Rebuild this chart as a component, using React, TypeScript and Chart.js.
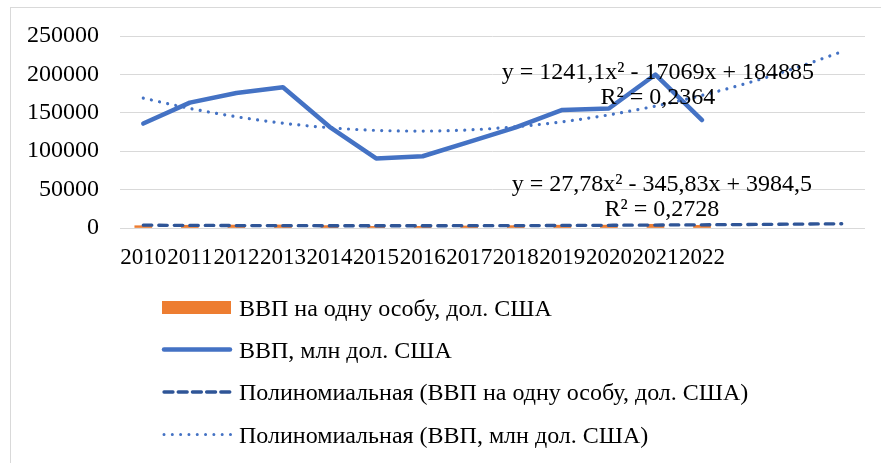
import { useEffect, useRef } from 'react';
import { Chart, registerables } from 'chart.js';

Chart.register(...registerables);

// ---- data ----
const years = ['2010', '2011', '2012', '2013', '2014', '2015', '2016', '2017', '2018', '2019', '2020', '2021', '2022'];
const forecastLabels = ['', '', ''];
const gdpPerCapita = [2974, 3570, 3856, 4030, 3105, 2125, 2188, 2638, 3097, 3659, 3751, 4836, 3430];
const gdp = [136000, 163200, 175800, 183300, 131800, 90600, 93400, 112200, 130900, 153800, 155600, 199800, 140600];
const gdpTrend = [169057, 155711, 144848, 136467, 130568, 127151, 126216, 127763, 131793, 138305, 147299, 158775, 172734, 189175, 208098, 229503];
const perCapitaTrend = [3666, 3404, 3197, 3046, 2950, 2910, 2925, 2996, 3122, 3304, 3542, 3835, 4184, 4588, 5048, 5563];
const yTickValues = [0, 50000, 100000, 150000, 200000, 250000];
const seriesNames = [
  'ВВП на одну особу, дол. США',
  'ВВП, млн дол. США',
  'Полиномиальная (ВВП на одну особу, дол. США)',
  'Полиномиальная (ВВП, млн дол. США)',
];
const gdpEquation = ['y = 1241,1x² - 17069x + 184885', 'R² = 0,2364'];
const perCapitaEquation = ['y = 27,78x² - 345,83x + 3984,5', 'R² = 0,2728'];

const FONT = "'Liberation Serif', 'Times New Roman', serif";
const ORANGE = '#ED7D31';
const BLUE = '#4472C4';
const DARK_BLUE = '#2F5597';

export default function App() {
  const ref = useRef<HTMLCanvasElement>(null);

  useEffect(() => {
    if (!ref.current) return;

    const overlay = {
      id: 'overlay',
      afterDraw(chart: any) {
        const ctx: CanvasRenderingContext2D = chart.ctx;
        const xs = chart.scales.x;
        ctx.save();
        // trendline equations
        ctx.font = `24px ${FONT}`;
        ctx.fillStyle = '#000';
        ctx.textAlign = 'center';
        ctx.textBaseline = 'middle';
        const ex = xs.getPixelForValue(11.05);
        const ca = chart.chartArea;
        ctx.fillText(gdpEquation[0], ex, ca.top + 37);
        ctx.fillText(gdpEquation[1], ex, ca.top + 62);
        ctx.fillText(perCapitaEquation[0], ex + 4, ca.top + 149);
        ctx.fillText(perCapitaEquation[1], ex + 4, ca.top + 174);

        // legend
        const lx0 = 163;
        const lx1 = 231;
        const tx = 239;
        const rows = [307.5, 349.5, 392, 434.5];
        ctx.textAlign = 'left';
        ctx.font = `24px ${FONT}`;
        rows.forEach((ry, i) => {
          ctx.save();
          if (i === 0) {
            ctx.fillStyle = ORANGE;
            ctx.fillRect(lx0 - 1, ry - 6.5, lx1 - lx0 + 1, 13);
          } else {
            ctx.beginPath();
            ctx.lineCap = 'round';
            if (i === 1) {
              ctx.strokeStyle = BLUE;
              ctx.lineWidth = 4.5;
              ctx.setLineDash([]);
              ctx.moveTo(lx0 + 1, ry);
              ctx.lineTo(lx1 - 1, ry);
            } else if (i === 2) {
              ctx.strokeStyle = DARK_BLUE;
              ctx.lineWidth = 3.3;
              ctx.setLineDash([9, 5.2]);
              ctx.moveTo(lx0 + 1, ry);
              ctx.lineTo(lx1, ry);
            } else {
              ctx.strokeStyle = BLUE;
              ctx.lineWidth = 3;
              ctx.setLineDash([0.01, 8.3]);
              ctx.moveTo(lx0 + 1, ry);
              ctx.lineTo(lx1, ry);
            }
            ctx.stroke();
          }
          ctx.restore();
          ctx.fillStyle = '#000';
          ctx.fillText(seriesNames[i], tx, ry + 2);
        });
        ctx.restore();
      },
    };

    const chart = new Chart(ref.current, {
      type: 'bar',
      data: {
        labels: [...years, ...forecastLabels],
        datasets: [
          {
            type: 'line',
            label: seriesNames[3],
            data: gdpTrend,
            borderColor: BLUE,
            borderWidth: 3.2,
            borderDash: [0.01, 8.3],
            borderCapStyle: 'round',
            pointRadius: 0,
            cubicInterpolationMode: 'monotone',
            fill: false,
            order: 1,
          },
          {
            type: 'line',
            label: seriesNames[2],
            data: perCapitaTrend,
            borderColor: DARK_BLUE,
            borderWidth: 3.3,
            borderDash: [8.5, 7],
            borderCapStyle: 'round',
            pointRadius: 0,
            cubicInterpolationMode: 'monotone',
            fill: false,
            order: 2,
          },
          {
            type: 'line',
            label: seriesNames[1],
            data: gdp,
            borderColor: BLUE,
            borderWidth: 4.5,
            borderCapStyle: 'round',
            borderJoinStyle: 'round',
            pointRadius: 0,
            tension: 0,
            fill: false,
            order: 3,
          },
          {
            type: 'bar',
            label: seriesNames[0],
            data: gdpPerCapita,
            backgroundColor: ORANGE,
            barThickness: 17,
            order: 4,
          },
        ],
      } as any,
      options: {
        responsive: false,
        animation: false,
        devicePixelRatio: 1,
        layout: { padding: { left: 10, top: 36, right: 16, bottom: 195 } },
        plugins: {
          legend: { display: false },
          tooltip: { enabled: false },
        },
        scales: {
          x: {
            offset: true,
            grid: { display: false, drawTicks: false },
            border: { display: false },
            ticks: {
              autoSkip: false,
              maxRotation: 0,
              minRotation: 0,
              padding: 16,
              color: '#000',
              font: { family: FONT, size: 23 },
            },
            afterFit: (s: any) => {
              s.height = 40;
            },
          },
          y: {
            min: yTickValues[0],
            max: yTickValues[yTickValues.length - 1],
            afterBuildTicks: (s: any) => {
              s.ticks = yTickValues.map((v) => ({ value: v }));
            },
            grid: { color: '#d9d9d9', lineWidth: 1, drawTicks: false },
            border: { display: false },
            ticks: {
              padding: 21,
              color: '#000',
              font: { family: FONT, size: 24 },
              callback: (v: any) => String(v),
            },
            afterFit: (s: any) => {
              s.width = 110;
            },
          },
        },
      },
      plugins: [overlay],
    });
    return () => chart.destroy();
  }, []);

  return (
    <>
      <div
        style={{
          position: 'fixed',
          left: 10,
          top: 7,
          width: 900,
          height: 500,
          border: '1px solid #d9d9d9',
          boxSizing: 'border-box',
        }}
      />
      <canvas ref={ref} width={881} height={463} style={{ position: 'fixed', left: 0, top: 0 }} />
    </>
  );
}
